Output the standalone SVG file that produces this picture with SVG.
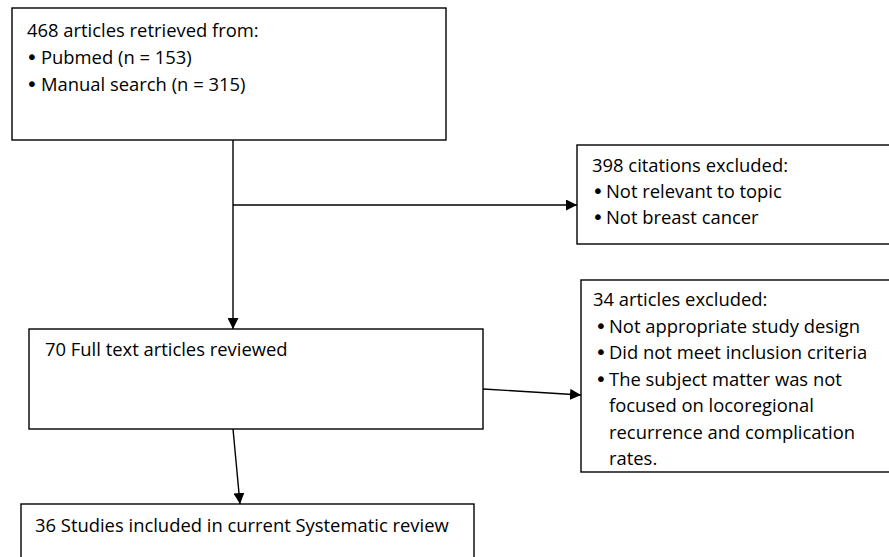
<svg xmlns="http://www.w3.org/2000/svg" width="889" height="557" viewBox="0 0 889 557">
<style>
.box{fill:#fff;stroke:#000;stroke-width:1.4}
.t{font-family:"Open Sans","Noto Sans",sans-serif;font-size:18.4px;fill:#000}
.b{font-family:"DejaVu Sans",sans-serif;font-size:20px;fill:#000}
.c{stroke:#000;stroke-width:1.4;fill:none}
</style>
<defs>
<marker id="ah" viewBox="0 0 10 10" refX="10" refY="5" markerWidth="11" markerHeight="11" markerUnits="userSpaceOnUse" orient="auto">
<path d="M0,0 L10,5 L0,10 Z" fill="#000"/>
</marker>
</defs>
<rect width="889" height="557" fill="#fff"/>
<g id="connectors">
<line class="c" x1="233" y1="140" x2="233" y2="329" marker-end="url(#ah)"/>
<line class="c" x1="233" y1="205" x2="577" y2="205" marker-end="url(#ah)"/>
<line class="c" x1="483" y1="389" x2="581" y2="395" marker-end="url(#ah)"/>
<line class="c" x1="233" y1="429" x2="240" y2="504" marker-end="url(#ah)"/>
</g>
<g id="n1">
<rect class="box" x="12" y="8" width="434" height="132"/>
<text class="t" x="27" y="37">468 articles retrieved from:</text>
<text class="b" x="26" y="64">•</text><text class="t" x="41" y="64">Pubmed (n = 153)</text>
<text class="b" x="26" y="91">•</text><text class="t" x="41" y="91">Manual search (n = 315)</text>
</g>
<g id="n2">
<rect class="box" x="577" y="145" width="320" height="99"/>
<text class="t" x="592" y="172">398 citations excluded:</text>
<text class="b" x="592" y="198">•</text><text class="t" x="606" y="198">Not relevant to topic</text>
<text class="b" x="592" y="224">•</text><text class="t" x="606" y="224">Not breast cancer</text>
</g>
<g id="n3">
<rect class="box" x="581" y="280" width="316" height="192"/>
<text class="t" x="593" y="306">34 articles excluded:</text>
<text class="b" x="595" y="333">•</text><text class="t" x="609" y="333">Not appropriate study design</text>
<text class="b" x="595" y="359">•</text><text class="t" x="609" y="359">Did not meet inclusion criteria</text>
<text class="b" x="595" y="386">•</text><text class="t" x="609" y="386">The subject matter was not</text>
<text class="t" x="609" y="412">focused on locoregional</text>
<text class="t" x="609" y="439">recurrence and complication</text>
<text class="t" x="609" y="465">rates.</text>
</g>
<g id="n4">
<rect class="box" x="29" y="329" width="454" height="100"/>
<text class="t" x="45" y="356">70 Full text articles reviewed</text>
</g>
<g id="n5">
<rect class="box" x="21" y="504" width="453" height="70"/>
<text class="t" x="35" y="532">36 Studies included in current Systematic review</text>
</g>
</svg>
